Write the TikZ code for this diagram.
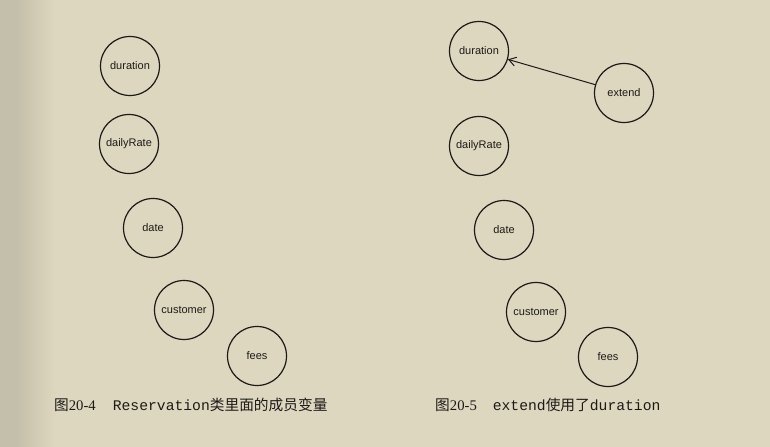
\documentclass[tikz,border=0pt]{standalone}
\usepackage{fontspec}
\setmainfont{Liberation Serif}
\setmonofont{Liberation Mono}
\newfontfamily\cjk{Noto Sans CJK SC}
\newfontfamily\lsans{Liberation Sans}
\usetikzlibrary{arrows.meta}
\definecolor{paper}{RGB}{222,215,191}
\definecolor{shadow}{RGB}{196,191,170}
\definecolor{ink}{RGB}{28,26,24}
\tikzset{
  var/.style={circle,draw=ink,line width=1.2bp,minimum size=59bp,inner sep=0pt,
    font=\lsans\fontsize{11bp}{13bp}\selectfont,text=ink},
  figcap/.style={anchor=base west,inner sep=0pt,text=ink,font=\fontsize{14.7bp}{17bp}\selectfont},
  uses/.style={draw=ink,line width=1bp,-{Straight Barb[length=7bp,width=9bp,line width=1bp]}}
}
\begin{document}
\begin{tikzpicture}[x=1bp,y=-1bp]
\useasboundingbox (0,0) rectangle (770,447);
\fill[paper] (0,0) rectangle (770,447);
\shade[left color=shadow,right color=shadow] (0,0) rectangle (16,447);
\shade[left color=shadow,right color=paper] (16,0) rectangle (55,447);
% left figure
\node[var] (d1) at (130,66) {duration};
\node[var] (r1) at (129,144) {dailyRate};
\node[var] (t1) at (153,228) {date};
\node[var] (c1) at (184,310) {customer};
\node[var] (f1) at (257,356) {fees};
\node[figcap] (cap1) at (54,410) {{\cjk 图}20-4\hspace{17bp}\texttt{Reservation}{\cjk 类里面的成员变量}};
% right figure
\node[var] (d2) at (479,51) {duration};
\node[var] (e2) at (624,93) {extend};
\node[var] (r2) at (479,146) {dailyRate};
\node[var] (t2) at (504,230) {date};
\node[var] (c2) at (536,312) {customer};
\node[var] (f2) at (608,357) {fees};
\draw[uses] (e2) -- (d2);
\node[figcap] (cap2) at (435,410) {{\cjk 图}20-5\hspace{16bp}\texttt{extend}{\cjk 使用了}\texttt{duration}};
\end{tikzpicture}
\end{document}
